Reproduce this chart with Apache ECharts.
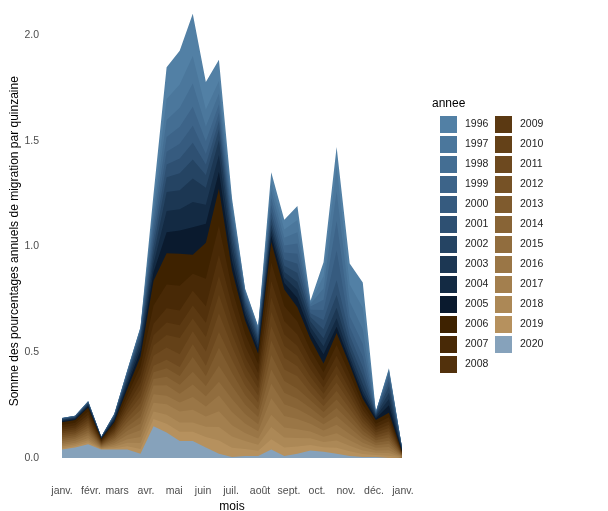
<!DOCTYPE html>
<html><head><meta charset="utf-8">
<script src="https://cdn.jsdelivr.net/npm/echarts@6/dist/echarts.min.js"></script>
<style>html,body{margin:0;padding:0;background:#fff}#c{width:608px;height:511px}</style>
</head><body><div id="c"></div>
<script>
// x = day of year of each fortnight point
const days = [0,14,28,42,56,70,84,98,112,126,140,154,168,182,196,210,224,238,252,266,280,294,308,322,336,350,364];
const monthTicks = [0,31,59,90,120,151,181,212,243,273,304,334,365];
const monthLabels = ['janv.','févr.','mars','avr.','mai','juin','juil.','août','sept.','oct.','nov.','déc.','janv.'];
const yTicks = [0,0.5,1,1.5,2];
const years = ['1996','1997','1998','1999','2000','2001','2002','2003','2004','2005','2006','2007','2008','2009','2010','2011','2012','2013','2014','2015','2016','2017','2018','2019','2020'];

const v1996 = [0,0,.001,0,.001,.002,.003,.05,.15,.16,.20,.13,.10,.02,.005,.004,.046,.046,.067,.006,.067,.09,.10,.12,.001,.005,0];
const v1997 = [0,0,.001,0,.001,.003,.004,.04,.10,.11,.13,.08,.06,.025,.008,.006,.040,.040,.058,.009,.058,.12,.08,.10,.001,.008,0];
const v1998 = [.001,.001,.001,0,.002,.004,.006,.04,.08,.09,.11,.07,.05,.03,.01,.008,.036,.036,.053,.012,.053,.14,.07,.07,.002,.012,.001];
const v1999 = [.001,.001,.002,.001,.002,.005,.008,.04,.07,.08,.09,.06,.04,.03,.012,.01,.033,.033,.048,.015,.048,.14,.05,.06,.002,.015,.001];
const v2000 = [.002,.002,.002,.001,.003,.007,.011,.04,.06,.07,.08,.05,.04,.03,.014,.012,.033,.033,.048,.016,.048,.14,.04,.05,.003,.02,.002];
const v2001 = [.002,.002,.003,.001,.004,.009,.014,.04,.06,.07,.08,.05,.04,.035,.016,.014,.030,.030,.043,.018,.043,.07,.04,.04,.004,.025,.002];
const v2002 = [.003,.003,.004,.001,.005,.012,.018,.04,.07,.08,.09,.06,.05,.04,.018,.016,.030,.030,.043,.022,.043,.06,.03,.04,.005,.03,.003];
const v2003 = [.003,.003,.005,.002,.006,.014,.022,.04,.09,.09,.11,.08,.07,.04,.02,.018,.026,.026,.038,.025,.038,.05,.03,.03,.006,.03,.003];
const v2004 = [.004,.004,.005,.002,.008,.016,.025,.04,.10,.10,.12,.09,.08,.045,.022,.02,.026,.026,.038,.027,.038,.04,.02,.02,.008,.03,.004];
const v2005 = [.004,.004,.006,.002,.008,.018,.029,.04,.10,.11,.13,.09,.08,.045,.025,.022,.030,.030,.043,.030,.043,.03,.02,.02,.008,.035,.004];
const v2006 = [.013,.013,.018,.005,.013,.029,.046,.117,.148,.152,.090,.170,.175,.088,.064,.048,.097,.079,.068,.053,.042,.057,.043,.028,.018,.021,.003];
const v2007 = [.012,.012,.016,.0045,.012,.026,.041,.086,.112,.116,.080,.130,.138,.079,.058,.043,.087,.071,.061,.047,.038,.051,.039,.025,.016,.019,.003];
const v2008 = [.010,.010,.014,.004,.010,.023,.037,.055,.067,.070,.070,.078,.100,.070,.051,.038,.078,.063,.054,.042,.034,.046,.034,.022,.014,.017,.002];
const v2009 = [.009,.009,.012,.0035,.009,.020,.032,.048,.059,.061,.061,.068,.088,.062,.045,.034,.068,.055,.048,.037,.029,.040,.030,.019,.012,.015,.002];
const v2010 = [.009,.009,.012,.0035,.009,.020,.032,.048,.059,.076,.061,.068,.088,.062,.045,.034,.068,.055,.048,.037,.029,.040,.030,.019,.012,.015,.002];
const v2011 = [.009,.009,.012,.0035,.009,.020,.032,.048,.059,.061,.061,.068,.088,.062,.045,.034,.068,.055,.048,.037,.029,.040,.030,.019,.012,.015,.002];
const v2012 = [.009,.009,.012,.0035,.009,.020,.032,.031,.040,.042,.060,.048,.075,.062,.045,.034,.068,.055,.058,.037,.029,.040,.030,.019,.012,.015,.002];
const v2013 = [.009,.009,.012,.0035,.009,.020,.032,.031,.040,.042,.070,.048,.085,.062,.045,.034,.068,.055,.048,.037,.029,.040,.030,.019,.012,.015,.002];
const v2014 = [.009,.009,.012,.0035,.009,.020,.032,.031,.040,.042,.060,.048,.075,.062,.045,.034,.068,.055,.048,.037,.029,.040,.030,.019,.012,.015,.002];
const v2015 = [.009,.009,.012,.0035,.009,.020,.032,.041,.050,.042,.060,.048,.065,.062,.045,.034,.068,.055,.048,.037,.029,.040,.030,.019,.012,.015,.002];
const v2016 = [.009,.009,.012,.0035,.009,.020,.032,.041,.040,.042,.060,.048,.075,.062,.045,.034,.078,.055,.048,.037,.029,.040,.030,.019,.012,.015,.002];
const v2017 = [.008,.008,.0105,.003,.008,.017,.028,.041,.050,.052,.060,.048,.075,.053,.038,.029,.058,.047,.041,.032,.025,.034,.026,.017,.011,.013,.002];
const v2018 = [.008,.008,.0105,.003,.008,.017,.028,.035,.042,.044,.044,.049,.063,.053,.038,.029,.058,.047,.041,.032,.025,.034,.026,.017,.011,.013,.002];
const v2019 = [.0065,.0065,.009,.0025,.0065,.015,.023,.035,.042,.044,.044,.049,.063,.044,.032,.024,.049,.040,.034,.026,.021,.029,.022,.014,.009,.011,.002];
const v2020 = [.04,.05,.065,.04,.04,.04,.02,.15,.12,.08,.08,.05,.02,.005,.01,.01,.04,.01,.02,.035,.03,.02,.01,.005,.005,0,0];

const palette = ['#5280a5','#4b779c','#446e93','#3d6489','#365b7f','#2e5072','#254463','#1c3753','#132a43','#0a1a2e',
  '#3e2200','#482906','#52310c','#5b3912','#644118','#6d491f','#765226','#7f5b2e','#886436','#916d3e','#9a7646','#a37f4e','#ac8856','#b6915e','#86a2bb'];

const valuesByYear = {1996:v1996,1997:v1997,1998:v1998,1999:v1999,2000:v2000,2001:v2001,2002:v2002,2003:v2003,2004:v2004,2005:v2005,
  2006:v2006,2007:v2007,2008:v2008,2009:v2009,2010:v2010,2011:v2011,2012:v2012,2013:v2013,2014:v2014,2015:v2015,2016:v2016,
  2017:v2017,2018:v2018,2019:v2019,2020:v2020};

const FONT = "'Liberation Sans', Arial, sans-serif";

// Stack order: 2020 at the bottom, 1996 on top. Cumulative tops are drawn
// from the highest (1996) down so each lower layer paints over the rest.
const cumTop = {};
let running = days.map(() => 0);
years.slice().reverse().forEach(y => {
  running = running.map((s, j) => s + valuesByYear[y][j]);
  cumTop[y] = running.slice();
});
const series = years.map((y, i) => ({
  name: y, type: 'line', symbol: 'none', showSymbol: false,
  lineStyle: {width: 0, opacity: 0},
  itemStyle: {color: palette[i]},
  areaStyle: {color: palette[i], opacity: 1, origin: 0},
  emphasis: {disabled: true},
  z: 2 + i,
  data: days.map((d, j) => [d, cumTop[y][j]])
}));

const chart = echarts.init(document.getElementById('c'), null, {renderer: 'canvas'});
chart.setOption({
  animation: false,
  backgroundColor: '#fff',
  textStyle: {fontFamily: FONT},
  title: {text: 'annee', left: 432, top: 98, padding: 0, textStyle: {fontSize: 12, fontWeight: 'normal', color: '#000', fontFamily: FONT}},
  legend: [
    {data: years.slice(0, 13), orient: 'vertical', left: 440, top: 116, padding: 0, itemWidth: 17, itemHeight: 17, itemGap: 3,
     icon: 'rect', selectedMode: false, textStyle: {fontSize: 10.5, color: '#222', fontFamily: FONT, padding: [0,0,0,3]}},
    {data: years.slice(13), orient: 'vertical', left: 495, top: 116, padding: 0, itemWidth: 17, itemHeight: 17, itemGap: 3,
     icon: 'rect', selectedMode: false, textStyle: {fontSize: 10.5, color: '#222', fontFamily: FONT, padding: [0,0,0,3]}}
  ],
  grid: {left: 45, right: 189, top: 3.3, bottom: 31.85, containLabel: false, outerBoundsMode: 'none'},
  xAxis: {
    type: 'value', min: -18.2, max: 382.2,
    name: 'mois', nameLocation: 'middle', nameGap: 22,
    nameTextStyle: {fontSize: 12, color: '#000', fontFamily: FONT},
    axisLine: {show: false}, axisTick: {show: false}, splitLine: {show: false},
    axisLabel: {customValues: monthTicks, fontSize: 10.5, color: '#4d4d4d', margin: 6, fontFamily: FONT,
      formatter: v => monthLabels[monthTicks.indexOf(v)] || ''}
  },
  yAxis: {
    type: 'value', min: -0.1, max: 2.15,
    name: 'Somme des pourcentages annuels de migration par quinzaine', nameLocation: 'middle', nameGap: 24,
    nameMoveOverlap: false,
    nameTextStyle: {fontSize: 12, color: '#000', fontFamily: FONT},
    axisLine: {show: false}, axisTick: {show: false}, splitLine: {show: false},
    axisLabel: {customValues: yTicks, fontSize: 10.5, color: '#4d4d4d', margin: 6, fontFamily: FONT,
      formatter: v => v.toFixed(1)}
  },
  series: series
});
</script></body></html>
